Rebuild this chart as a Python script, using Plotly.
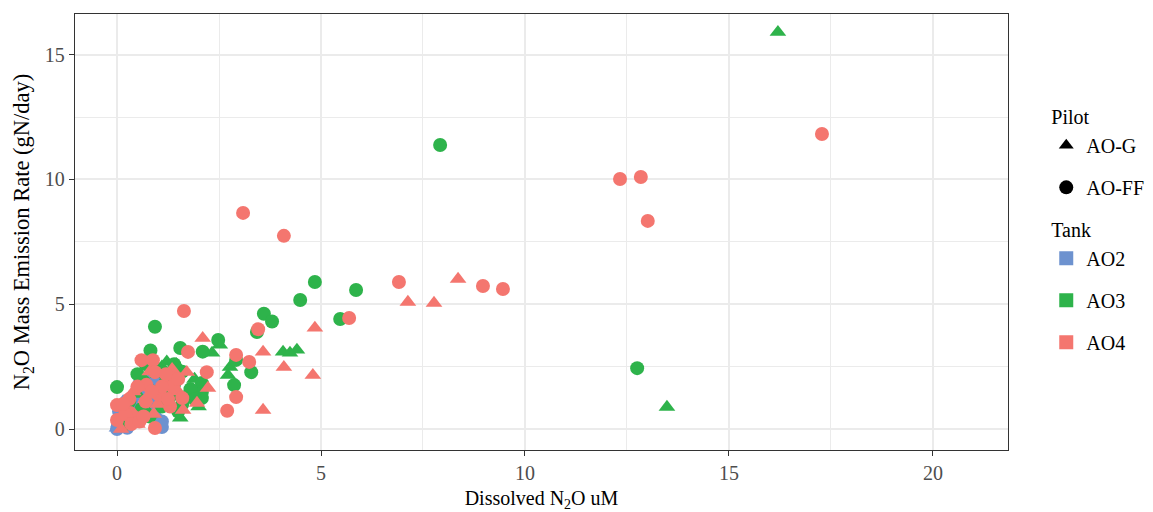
import plotly.graph_objects as go

# ---------------- data ----------------
# AO2 tank
ao2_g_x = [0.0, 0.1, 0.2, 0.3, 0.45, 0.6, 0.75, 1.0, 0.15, 1.3]
ao2_g_y = [0.05, 0.5, 0.15, 0.7, 0.25, 0.9, 1.6, 0.5, 1.1, 1.04]
ao2_ff_x = [0.0, 0.02, 0.05, 0.1, 0.15, 0.2, 0.3, 0.35, 0.4, 0.5, 0.56, 0.6, 0.7,
            0.8, 0.9, 1.0, 1.1, 1.2, 0.25, 0.05, 1.1]
ao2_ff_y = [0.0, 0.1, 0.3, 0.2, 0.5, 0.8, 0.4, 1.0, 1.3, 0.6, 1.84, 1.5, 2.0,
            1.2, 0.9, 1.9, 0.3, 1.6, 0.05, 0.7, 0.08]

# AO3 tank
ao3_g_x = [4.07, 4.24, 4.41, 2.33, 2.52, 2.77, 2.72, 1.22, 1.45, 1.55, 1.0, 1.9,
           0.5, 0.8, 1.3, 2.0, 0.7, 1.7, 1.1, 16.2, 13.48]
ao3_g_y = [3.09, 3.05, 3.17, 3.05, 3.37, 2.48, 2.16, 2.7, 2.6, 0.45, 2.2, 2.0,
           1.4, 0.6, 1.0, 0.9, 1.9, 1.4, 2.5, 15.9, 0.88]
ao3_ff_x = [0.0, 0.93, 0.82, 1.55, 2.1, 2.48, 2.08, 2.08, 2.08, 2.87, 2.92, 3.29,
            1.6, 1.4, 1.2, 1.0, 0.7, 0.5, 0.3, 0.6, 0.8, 1.1, 1.3, 1.6, 1.8,
            0.4, 0.2, 1.5, 1.0, 0.65, 1.9, 1.4,
            3.43, 3.6, 3.8, 4.49, 4.85, 5.47, 5.86, 7.92, 12.75]
ao3_ff_y = [1.68, 4.1, 3.15, 3.25, 3.1, 3.57, 1.84, 1.48, 1.24, 1.76, 2.77, 2.28,
            2.3, 2.6, 1.9, 1.5, 2.6, 2.2, 1.1, 0.8, 0.5, 0.9, 1.3, 1.0, 1.6,
            0.4, 0.2, 0.7, 2.4, 1.9, 1.2, 1.8,
            3.89, 4.62, 4.31, 5.17, 5.89, 4.41, 5.57, 11.38, 2.44]

# AO4 tank
ao4_g_x = [8.36, 7.13, 7.77, 4.85, 4.09, 4.8, 3.58, 3.58, 2.1, 2.23, 1.71, 1.96,
           1.62, 1.35, 1.2, 0.9, 0.5, 0.3, 0.7, 1.0, 0.1, 0.4, 1.5, 0.8]
ao4_g_y = [6.01, 5.09, 5.05, 4.05, 2.48, 2.16, 0.76, 3.09, 3.64, 1.64, 2.28, 1.04,
           0.76, 2.4, 1.8, 0.6, 0.2, 0.5, 1.2, 1.0, 0.0, 1.5, 1.5, 2.3]
ao4_ff_x = [17.28, 12.33, 12.84, 13.01, 3.09, 4.09, 6.91, 8.97, 9.46, 5.69, 3.46,
            3.24, 2.92, 2.92, 2.7, 2.2, 1.74, 1.64,
            0.0, 0.0, 0.6, 0.88, 0.72, 0.93, 1.42, 1.6, 0.93, 0.32, 0.4, 1.05,
            1.37, 0.2, 0.3, 0.5, 0.7, 1.0, 1.1, 1.2, 1.3, 1.5, 0.35, 0.55,
            1.25, 0.15, 0.85, 0.65]
ao4_ff_y = [11.82, 10.02, 10.1, 8.34, 8.66, 7.74, 5.89, 5.73, 5.61, 4.45, 4.0,
            2.69, 2.97, 1.28, 0.73, 2.28, 3.09, 4.73,
            0.96, 0.36, 2.76, 2.76, 1.77, 0.04, 2.04, 1.24, 2.28, 0.64, 0.5, 1.36,
            1.68, 0.6, 1.2, 1.7, 1.1, 1.4, 1.7, 2.2, 0.9, 2.0, 0.2, 0.3,
            1.2, 1.0, 1.5, 0.5]

tank_colors = {"AO2": "#6D92CF", "AO3": "#2EB34B", "AO4": "#F4766F"}
pilot_symbols = {"AO-G": "triangle-up", "AO-FF": "circle"}

series = [
    ("AO2", "AO-G", ao2_g_x, ao2_g_y),
    ("AO2", "AO-FF", ao2_ff_x, ao2_ff_y),
    ("AO3", "AO-G", ao3_g_x, ao3_g_y),
    ("AO3", "AO-FF", ao3_ff_x, ao3_ff_y),
    ("AO4", "AO-G", ao4_g_x, ao4_g_y),
    ("AO4", "AO-FF", ao4_ff_x, ao4_ff_y),
]

FONT = "Liberation Serif"
FS = 20
fig = go.Figure()

for tank, pilot, xs, ys in series:
    fig.add_trace(go.Scatter(
        x=xs, y=ys, mode="markers", showlegend=False,
        name=f"{tank} {pilot}",
        marker=dict(color=tank_colors[tank], symbol=pilot_symbols[pilot],
                    size=14.5 if pilot == "AO-G" else 14, line=dict(width=0)),
    ))

# legend entries
for i, pilot in enumerate(["AO-G", "AO-FF"]):
    kw = dict(legendgrouptitle_text="Pilot") if i == 0 else {}
    fig.add_trace(go.Scatter(
        x=[None], y=[None], mode="markers", name=pilot,
        legendgroup=f"pilot{i}", **kw,
        marker=dict(color="black", symbol=pilot_symbols[pilot],
                    size=14 if pilot == "AO-FF" else 13),
    ))
for i, tank in enumerate(["AO2", "AO3", "AO4"]):
    kw = dict(legendgrouptitle_text="Tank") if i == 0 else {}
    fig.add_trace(go.Scatter(
        x=[None], y=[None], mode="markers", name=tank,
        legendgroup=f"tank{i}", **kw,
        marker=dict(color=tank_colors[tank], symbol="square", size=14),
    ))

axis_common = dict(
    showline=True, mirror=True, linecolor="#333333", linewidth=1.3,
    ticks="outside", ticklen=5, tickwidth=1.3, tickcolor="#333333",
    tickfont=dict(family=FONT, size=FS, color="#4D4D4D"),
    showgrid=True, gridcolor="#EBEBEB", gridwidth=2,
    zeroline=False,
)

fig.update_layout(
    width=1153, height=512,
    margin=dict(l=75, r=145, t=14, b=62, autoexpand=False),
    paper_bgcolor="white", plot_bgcolor="white",
    font=dict(family=FONT, size=FS, color="black"),
    xaxis=dict(range=[-1.03, 21.84], tickvals=[0, 5, 10, 15, 20],
               minor=dict(dtick=2.5, tick0=0, showgrid=True, gridcolor="#EBEBEB", gridwidth=1),
               title=dict(text="Dissolved N<sub>2</sub>O uM", standoff=10,
                          font=dict(family=FONT, size=FS, color="black")),
               **axis_common),
    yaxis=dict(range=[-0.84, 16.63], tickvals=[0, 5, 10, 15],
               minor=dict(dtick=2.5, tick0=0, showgrid=True, gridcolor="#EBEBEB", gridwidth=1),
               title=dict(text="N<sub>2</sub>O Mass Emission Rate (gN/day)", standoff=8,
                          font=dict(family=FONT, size=22.5, color="black")),
               **axis_common),
    legend=dict(
        x=1.041, y=0.81, xanchor="left", yanchor="top",
        traceorder="grouped", tracegroupgap=13, itemsizing="trace",
        font=dict(family=FONT, size=FS, color="black"),
        grouptitlefont=dict(family=FONT, size=FS, color="black"),
        bgcolor="rgba(0,0,0,0)",
    ),
)

fig.write_html("out.html")
